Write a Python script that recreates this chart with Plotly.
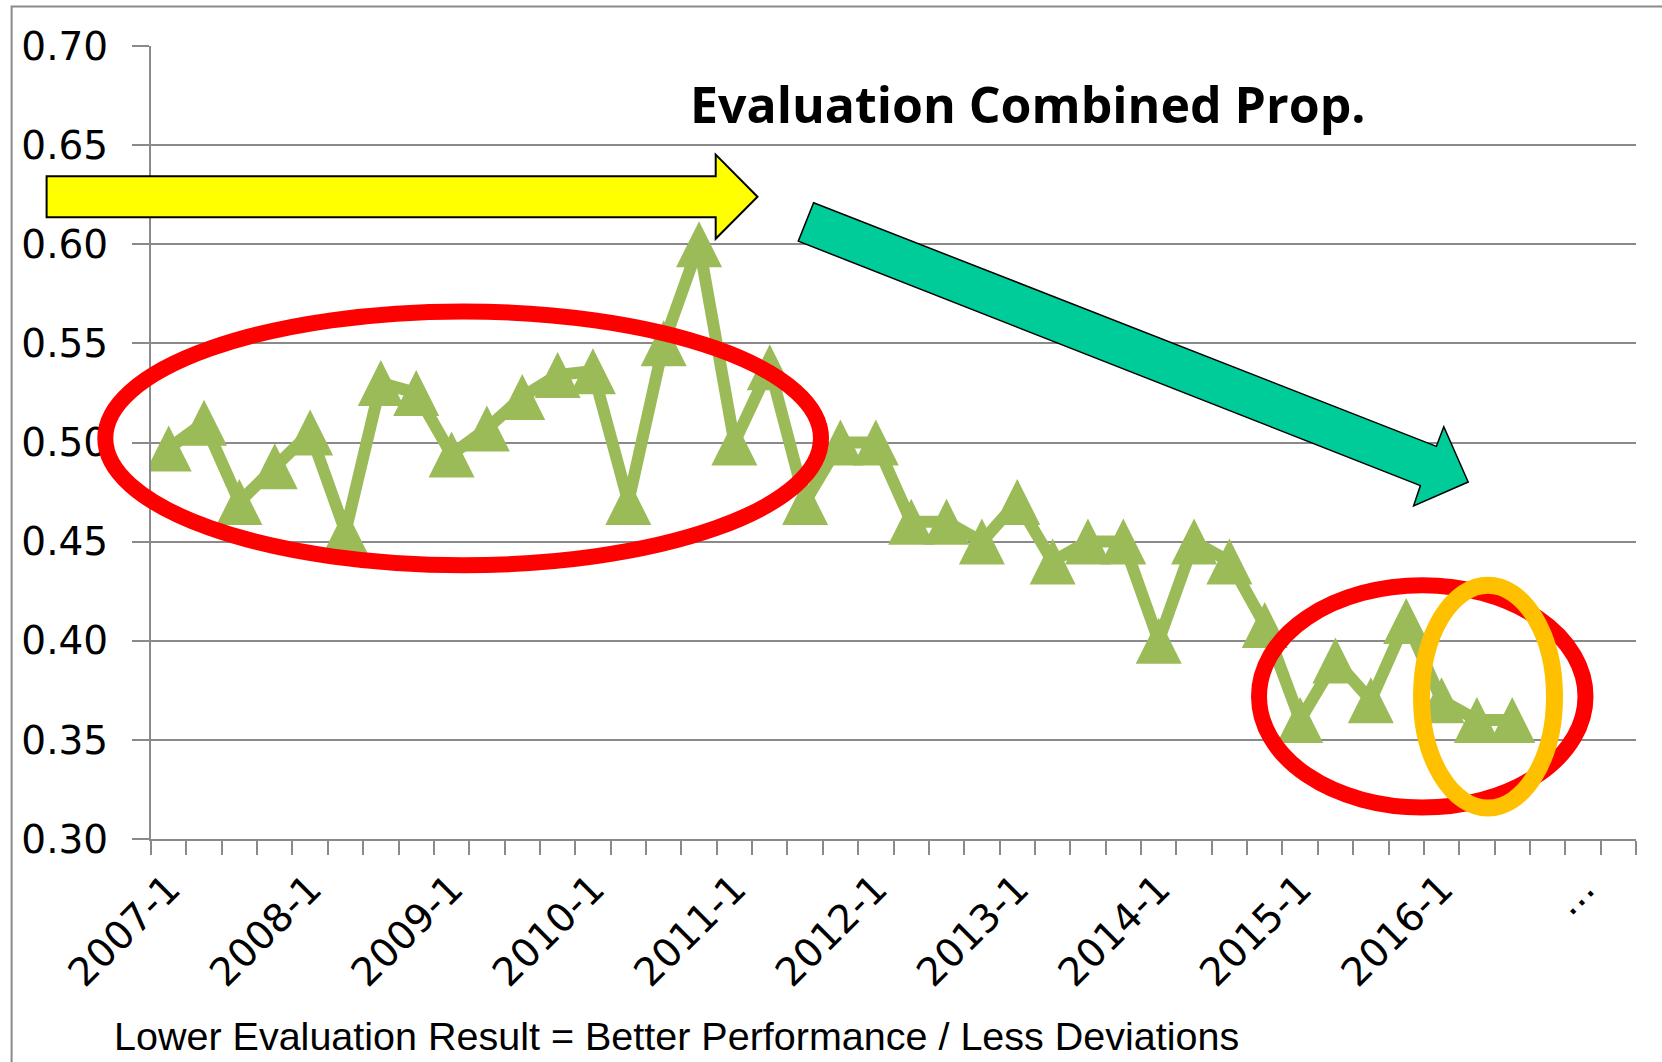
import plotly.graph_objects as go

# ---------------- data ----------------
categories = [
    "2007-1", "2007-2", "2007-3", "2007-4",
    "2008-1", "2008-2", "2008-3", "2008-4",
    "2009-1", "2009-2", "2009-3", "2009-4",
    "2010-1", "2010-2", "2010-3", "2010-4",
    "2011-1", "2011-2", "2011-3", "2011-4",
    "2012-1", "2012-2", "2012-3", "2012-4",
    "2013-1", "2013-2", "2013-3", "2013-4",
    "2014-1", "2014-2", "2014-3", "2014-4",
    "2015-1", "2015-2", "2015-3", "2015-4",
    "2016-1", "2016-2", "2016-3", "2016-4",
    "2017-1", "2017-2",
]
values = [
    0.497, 0.510, 0.470, 0.488, 0.505, 0.455, 0.530, 0.525, 0.494, 0.507,
    0.523, 0.534, 0.536, 0.470, 0.550, 0.600, 0.500, 0.538, 0.470, 0.500,
    0.500, 0.460, 0.460, 0.450, 0.470, 0.440, 0.450, 0.450, 0.400, 0.450,
    0.440, 0.408, 0.360, 0.390, 0.370, 0.410, 0.370, 0.360, 0.360,
]
tick_labels = ["2007-1", "2008-1", "2009-1", "2010-1", "2011-1", "2012-1",
               "2013-1", "2014-1", "2015-1", "2016-1", "..."]
y_ticks = [0.30, 0.35, 0.40, 0.45, 0.50, 0.55, 0.60, 0.65, 0.70]

title_text = "Evaluation Combined Prop."
note_text = "Lower Evaluation Result = Better Performance / Less Deviations"

# ---------------- layout geometry (pixels) ----------------
W, H = 1662, 1062
L, R, T, B = 151, 1636, 45.6, 839.5
PW, PH = R - L, B - T


def px(x):
    return (x - L) / PW


def py(y):
    return (B - y) / PH


GRID = "#8a8a8a"
GREEN = "#9BBB59"

ticktext = [tick_labels[i // 4] if i % 4 == 0 else "" for i in range(len(categories))]

fig = go.Figure()
fig.add_trace(go.Scatter(
    x=categories[:len(values)], y=values, mode="lines+markers",
    line=dict(color=GREEN, width=12, backoff=0),
    marker=dict(symbol="arrow-down", angle=180, standoff=23, size=46,
                color=GREEN, line=dict(width=0)),
    hoverinfo="skip", showlegend=False,
))


def poly(points):
    return "M " + " L ".join(f"{px(a):.5f},{py(b):.5f}" for a, b in points) + " Z"


shapes = []
# outer chart border (top + left)
shapes.append(dict(type="path", xref="paper", yref="paper",
                   path=f"M {px(11.6):.5f},{py(1080):.5f} L {px(11.6):.5f},{py(6):.5f} L {px(1680):.5f},{py(6):.5f}",
                   line=dict(color=GRID, width=2)))
# yellow arrow
shapes.append(dict(type="path", xref="paper", yref="paper",
                   path=poly([(46.6, 176), (715.7, 176), (715.7, 154.3), (757.5, 196.5),
                              (715.7, 238.6), (715.7, 217), (46.6, 217)]),
                   fillcolor="#FFFF00", line=dict(color="black", width=2)))
# teal arrow
shapes.append(dict(type="path", xref="paper", yref="paper",
                   path=poly([(813.6, 202.5), (1436.4, 446.4), (1443.8, 426.8), (1468.2, 482.1),
                              (1413.6, 506.0), (1420.4, 485.7), (798.3, 241.0)]),
                   fillcolor="#00CC99", line=dict(color="black", width=1.5)))
# ellipses
shapes.append(dict(type="circle", xref="paper", yref="paper",
                   x0=px(105.3), x1=px(821), y0=py(565.4), y1=py(311.3),
                   line=dict(color="#FF0000", width=16)))
shapes.append(dict(type="circle", xref="paper", yref="paper",
                   x0=px(1259), x1=px(1585.5), y0=py(808), y1=py(585.5),
                   line=dict(color="#FF0000", width=16)))
shapes.append(dict(type="circle", xref="paper", yref="paper",
                   x0=px(1421.5), x1=px(1554.5), y0=py(808.5), y1=py(585.5),
                   line=dict(color="#FFC000", width=17)))

annotations = [
    dict(text="<b>" + title_text + "</b>", xref="paper", yref="paper",
         x=px(1027.5), y=py(104), xanchor="center", yanchor="middle", showarrow=False,
         font=dict(family="Open Sans", size=50, color="black")),
    dict(text=note_text, xref="paper", yref="paper",
         x=px(112), y=py(1061), xanchor="left", yanchor="bottom", showarrow=False,
         font=dict(family="Liberation Sans, Arial, sans-serif", size=39.5, color="black")),
]

fig.update_layout(
    width=W, height=H,
    margin=dict(l=L, r=W - R, t=T, b=H - B, pad=0),
    paper_bgcolor="white", plot_bgcolor="white",
    showlegend=False,
    shapes=shapes, annotations=annotations,
    xaxis=dict(
        type="category", categoryorder="array", categoryarray=categories,
        range=[-0.5, len(categories) - 0.5],
        tickmode="array", tickvals=list(range(len(categories))), ticktext=ticktext,
        tickson="boundaries", ticks="outside", ticklen=14, tickwidth=2, tickcolor=GRID,
        showline=True, linecolor=GRID, linewidth=2, showgrid=False, zeroline=False,
        tickangle=-45, ticklabelstandoff=9,
        tickfont=dict(family="DejaVu Sans", size=39, color="black"),
        fixedrange=True,
    ),
    yaxis=dict(
        range=[0.30, 0.70], tickmode="array", tickvals=y_ticks,
        ticktext=[f"{v:.2f}" for v in y_ticks],
        ticks="outside", ticklen=17, tickwidth=2, tickcolor=GRID,
        showline=True, linecolor=GRID, linewidth=2,
        showgrid=True, gridcolor=GRID, gridwidth=2, zeroline=False,
        ticklabelstandoff=16,
        tickfont=dict(family="DejaVu Sans", size=39, color="black"),
        fixedrange=True,
    ),
)

fig.write_html("out.html", config={"displayModeBar": False},
               post_script="document.body.style.margin='0';document.body.style.overflow='hidden';")
